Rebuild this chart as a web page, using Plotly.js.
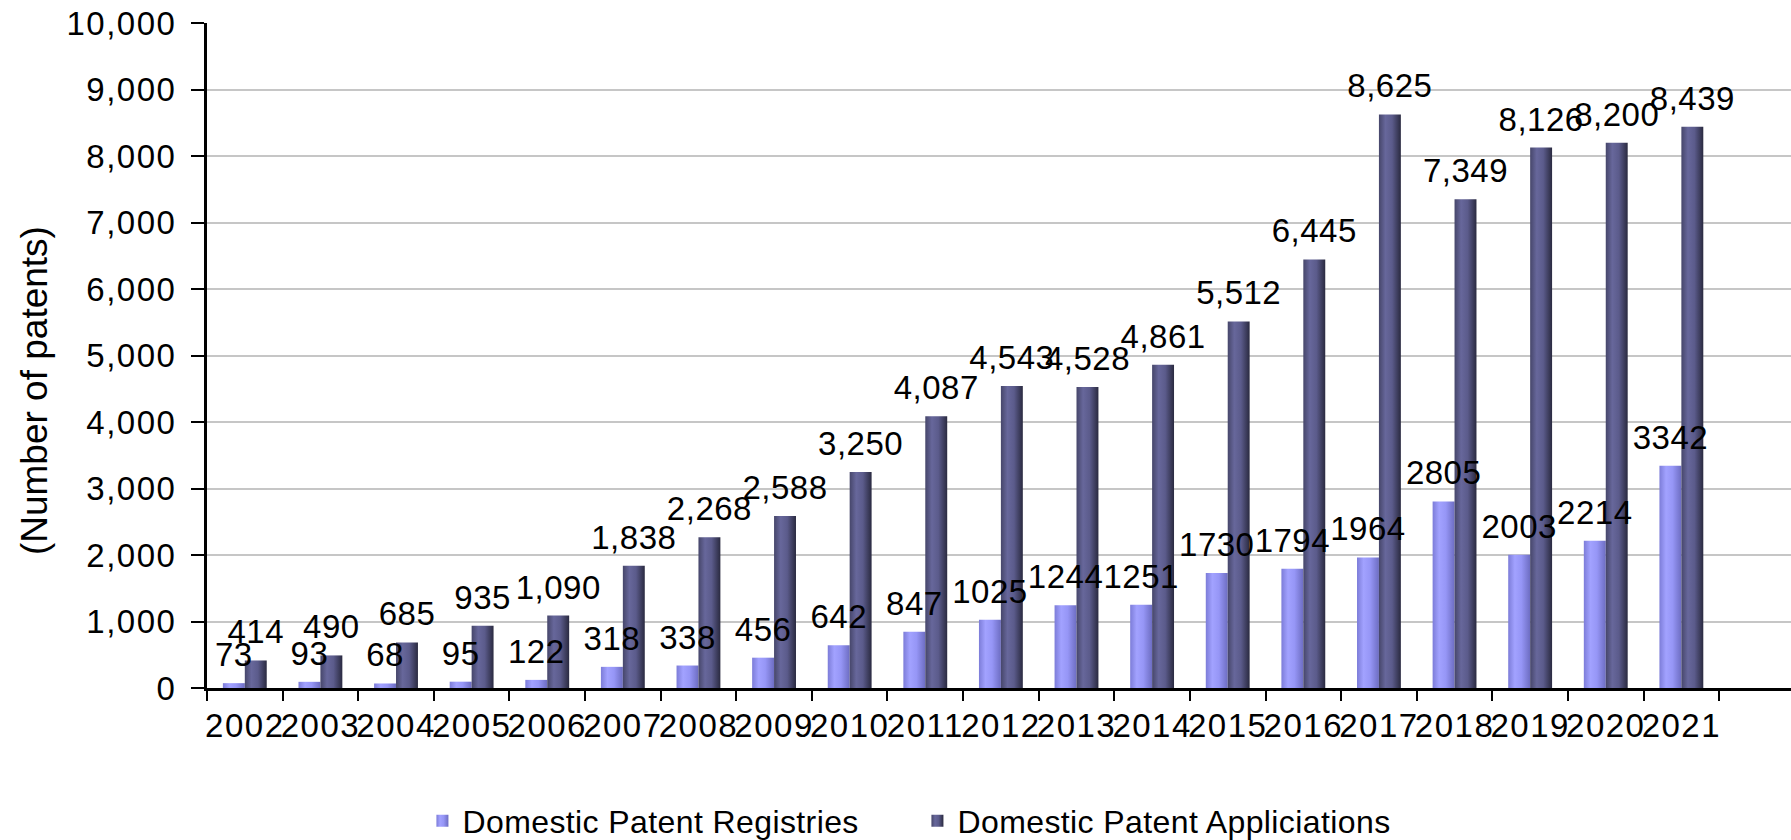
<!DOCTYPE html>
<html>
<head>
<meta charset="utf-8">
<script src="https://cdn.plot.ly/plotly-3.0.1.min.js"></script>
<style>
html, body { margin: 0; padding: 0; background: #ffffff; }
#chart { width: 1791px; height: 840px; }
</style>
</head>
<body>
<div id="chart"></div>
<script>
const years = ["2002","2003","2004","2005","2006","2007","2008","2009","2010","2011","2012","2013","2014","2015","2016","2017","2018","2019","2020","2021"];
const registries = [73, 93, 68, 95, 122, 318, 338, 456, 642, 847, 1025, 1244, 1251, 1730, 1794, 1964, 2805, 2003, 2214, 3342];
const applications = [414, 490, 685, 935, 1090, 1838, 2268, 2588, 3250, 4087, 4543, 4528, 4861, 5512, 6445, 8625, 7349, 8126, 8200, 8439];
const seriesNames = ["Domestic Patent Registries", "Domestic Patent Appliciations"];
const yTickVals = [0, 1000, 2000, 3000, 4000, 5000, 6000, 7000, 8000, 9000, 10000];

const FONT = "Liberation Sans, Arial, Helvetica, sans-serif";

const traces = [
  {
    type: "bar",
    name: seriesNames[0],
    x: years,
    y: registries,
    text: registries.map(v => String(v)),
    textposition: "outside",
    textangle: 0,
    constraintext: "none",
    cliponaxis: false,
    textfont: { family: FONT, size: 33, color: "#000000" },
    marker: { color: "#9494f4", line: { width: 0 } },
    hoverinfo: "x+y"
  },
  {
    type: "bar",
    name: seriesNames[1],
    x: years,
    y: applications,
    text: applications.map(v => v.toLocaleString("en-US")),
    textposition: "outside",
    textangle: 0,
    constraintext: "none",
    cliponaxis: false,
    textfont: { family: FONT, size: 33, color: "#000000" },
    marker: { color: "#5b5b8a", line: { width: 0 } },
    hoverinfo: "x+y"
  }
];

const layout = {
  width: 1791,
  height: 840,
  paper_bgcolor: "#ffffff",
  plot_bgcolor: "#ffffff",
  font: { family: FONT, size: 33, color: "#000000" },
  margin: { l: 207, r: 0, t: 23, b: 152, pad: 0, autoexpand: false },
  barmode: "group",
  bargap: 0.42,
  bargroupgap: 0,
  showlegend: true,
  legend: {
    orientation: "h",
    x: 0.136,
    xanchor: "left",
    y: -0.2,
    yanchor: "middle",
    font: { family: FONT, size: 32, color: "#000000" },
    bgcolor: "rgba(0,0,0,0)",
    entrywidth: 450,
    entrywidthmode: "pixels",
    traceorder: "normal"
  },
  xaxis: {
    type: "category",
    range: [-0.5, 20.45],
    tickson: "boundaries",
    ticks: "outside",
    ticklen: 10,
    tickwidth: 2,
    tickcolor: "#000000",
    tickangle: 0,
    automargin: false,
    showline: true,
    linecolor: "#000000",
    linewidth: 3,
    showgrid: false,
    zeroline: false,
    tickfont: { family: FONT, size: 33, color: "#000000" },
    ticklabelstandoff: 6,
    fixedrange: true
  },
  yaxis: {
    range: [0, 10000],
    tickvals: yTickVals,
    tickformat: ",d",
    ticks: "outside",
    ticklen: 13,
    tickwidth: 2,
    tickcolor: "#000000",
    automargin: false,
    showline: true,
    linecolor: "#000000",
    linewidth: 3,
    showgrid: true,
    gridcolor: "#c6c6c6",
    gridwidth: 2,
    zeroline: false,
    tickfont: { family: FONT, size: 33, color: "#000000" },
    ticklabelstandoff: 8,
    fixedrange: true
  },
  annotations: [
    {
      text: "(Number of patents)",
      xref: "paper",
      yref: "paper",
      x: -0.109,
      y: 0.447,
      xanchor: "center",
      yanchor: "middle",
      textangle: -90,
      showarrow: false,
      font: { family: FONT, size: 37, color: "#000000" }
    }
  ]
};

Plotly.newPlot("chart", traces, layout, { displayModeBar: false, staticPlot: true }).then(function (gd) {
  const svgNS = "http://www.w3.org/2000/svg";
  const svg = gd.querySelector(".main-svg");
  const defs = document.createElementNS(svgNS, "defs");
  const grads = [
    { id: "gradLight", stops: [[0, "#7c7cd8"], [0.3, "#a2a2ff"], [0.6, "#9696f6"], [1, "#6d6dc2"]] },
    { id: "gradDark", stops: [[0, "#46466a"], [0.3, "#67679b"], [0.6, "#5b5b8b"], [1, "#2a2a40"]] }
  ];
  grads.forEach(function (g) {
    const lg = document.createElementNS(svgNS, "linearGradient");
    lg.setAttribute("id", g.id);
    lg.setAttribute("x1", "0"); lg.setAttribute("y1", "0");
    lg.setAttribute("x2", "1"); lg.setAttribute("y2", "0");
    g.stops.forEach(function (s) {
      const st = document.createElementNS(svgNS, "stop");
      st.setAttribute("offset", s[0]);
      st.setAttribute("stop-color", s[1]);
      lg.appendChild(st);
    });
    defs.appendChild(lg);
  });
  svg.insertBefore(defs, svg.firstChild);

  const barTraces = gd.querySelectorAll(".barlayer .trace");
  barTraces.forEach(function (tr, i) {
    tr.querySelectorAll(".point path").forEach(function (p) {
      p.style.fill = "url(#" + grads[i].id + ")";
    });
  });
  gd.querySelectorAll(".legend .traces").forEach(function (tr, i) {
    tr.querySelectorAll(".legendpoints path").forEach(function (p) {
      p.style.fill = "url(#" + grads[i].id + ")";
    });
  });

  // put all value labels above every bar, lifted a little like the original
  const barlayer = gd.querySelector(".barlayer");
  const labelGroup = document.createElementNS(svgNS, "g");
  labelGroup.setAttribute("class", "value-labels");
  labelGroup.setAttribute("transform", "translate(0,-7)");
  barlayer.appendChild(labelGroup);
  gd.querySelectorAll(".barlayer .trace text.bartext").forEach(function (t) {
    t.style.letterSpacing = "0.5px";
    labelGroup.appendChild(t);
  });

  gd.querySelectorAll(".xtick text, .ytick text").forEach(function (t) {
    t.style.letterSpacing = "1.5px";
  });
  gd.querySelectorAll(".legend text.legendtext").forEach(function (t) {
    t.style.letterSpacing = "0.4px";
  });
});
</script>
</body>
</html>
